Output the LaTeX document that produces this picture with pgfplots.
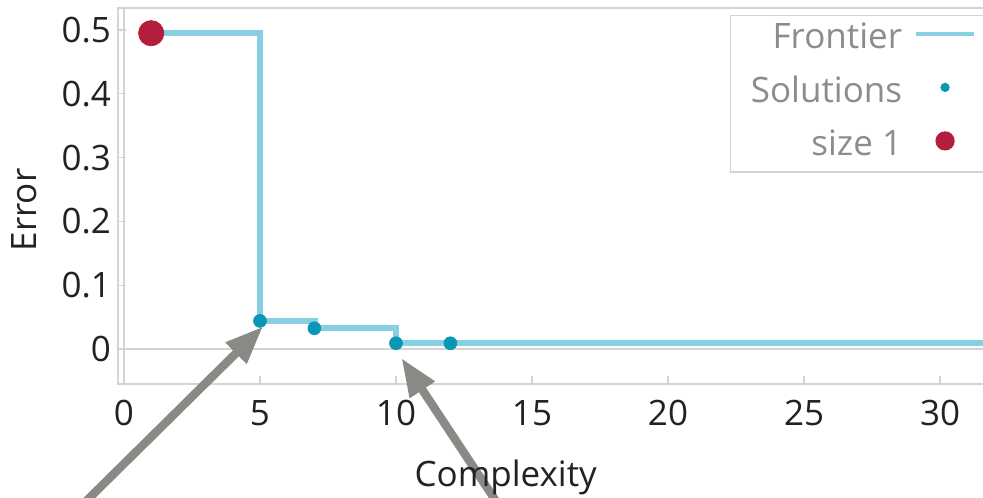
\documentclass[border=0pt]{standalone}
\usepackage{pgfplots}
\pgfplotsset{compat=1.18}
\usepackage{fontspec}
\setmainfont{Open Sans}
\usetikzlibrary{arrows.meta}
\definecolor{frontier}{RGB}{135,208,228}
\definecolor{sol}{RGB}{10,150,182}
\definecolor{sizeone}{RGB}{180,30,62}
\definecolor{arrowgray}{RGB}{136,138,134}
\definecolor{framegray}{RGB}{212,212,212}
\definecolor{legtext}{RGB}{140,140,140}
\definecolor{ticktext}{RGB}{34,34,34}
\begin{document}
\begin{tikzpicture}
\path[use as bounding box, clip] (0,0) rectangle (491.5pt,248.5pt);
\begin{axis}[
  at={(59pt,56.5pt)}, anchor=south west,
  scale only axis, width=438.2pt, height=188pt,
  xmin=-0.22, xmax=32.0, ymin=-0.055, ymax=0.5345,
  clip=false,
  axis line style={framegray, line width=0.6pt},
  tick style={framegray, line width=0.6pt},
  tick align=inside, major tick length=4pt,
  xtick pos=bottom, ytick pos=left,
  xtick={0,5,...,30},
  ytick={0,0.1,0.2,0.3,0.4,0.5},
  extra x ticks={0}, extra x tick labels={},
  extra x tick style={grid=major, major grid style={framegray, line width=0.6pt}},
  extra y ticks={0}, extra y tick labels={},
  extra y tick style={grid=major, major grid style={framegray, line width=0.6pt}},
  ticklabel style={font=\fontsize{17.5pt}{20pt}\selectfont, text=ticktext},
  xticklabel style={yshift=-4.5pt},
  /pgf/number format/assume math mode=true,
  yticklabel style={/pgf/number format/.cd, fixed, precision=1},
  xlabel={Complexity},
  xlabel style={at={(axis description cs:0.4424,-0.273)}, anchor=base, font=\fontsize{17.5pt}{20pt}\selectfont, text=ticktext},
  ylabel={Error},
  ylabel style={at={(axis description cs:-0.1067,0.4628)}, anchor=center, font=\fontsize{17.5pt}{20pt}\selectfont, text=ticktext},
  legend plot pos=right,
  legend cell align=right,
  legend style={at={(axis description cs:0.6986,0.9814)}, anchor=north west,
    draw=framegray, line width=0.6pt, fill=white, text=legtext,
    font=\fontsize{17.5pt}{20pt}\selectfont,
    inner xsep=8pt, inner ysep=1.6pt, row sep=5.25pt, /tikz/column sep=4pt,
    nodes={inner sep=2pt, text height=13pt, text depth=4.5pt}},
]
\addplot[frontier, line width=3.2pt, const plot,
  legend image code/.code={\draw[frontier, line width=2pt] (0pt,3.2pt) -- (29pt,3.2pt);}]
  coordinates {(1,0.495) (5,0.0439) (7,0.0324) (10,0.0089) (32,0.0089)};
\addlegendentry{Frontier}
\addplot[only marks, mark=*, mark size=3.2pt, mark options={draw=sol, fill=sol},
  legend image code/.code={\fill[sol] (14.5pt,3.2pt) circle (2pt);}]
  coordinates {(1,0.495) (5,0.0439) (7,0.0324) (10,0.0089) (12,0.0089)};
\addlegendentry{Solutions}
\addplot[only marks, mark=*, mark size=6.3pt, mark options={draw=sizeone, fill=sizeone},
  legend image code/.code={\fill[sizeone] (14.5pt,3.2pt) circle (4.5pt);}]
  coordinates {(1,0.495)};
\addlegendentry{size 1}
\draw[arrowgray, line width=4.2pt, -{Triangle[length=19pt,width=14pt]}]
  (axis cs:-2.35,-0.279) -- (axis cs:5.11,0.035);
\draw[arrowgray, line width=4.2pt, -{Triangle[length=19pt,width=14pt]}]
  (axis cs:14.3,-0.279) -- (axis cs:10.2,-0.0145);
\end{axis}
\end{tikzpicture}
\end{document}
